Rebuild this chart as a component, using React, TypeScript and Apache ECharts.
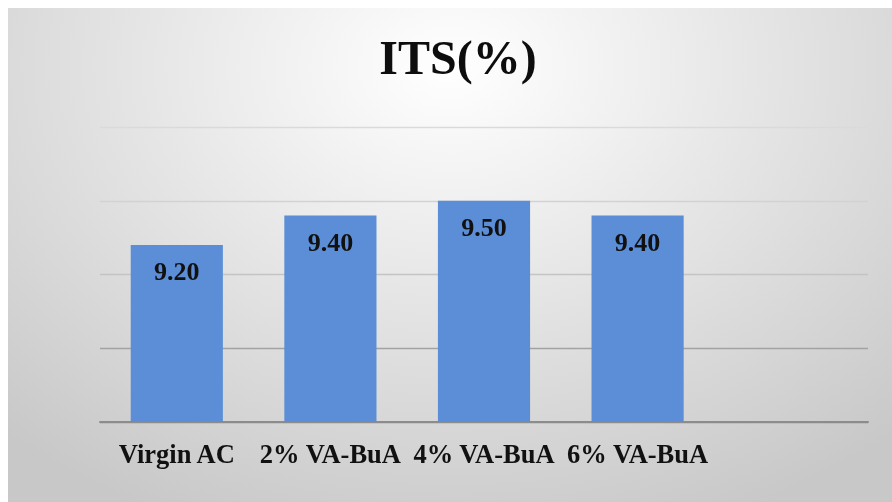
import React, { useEffect, useRef } from "react";
import * as echarts from "echarts";

const titleText = "ITS(%)";
const categories = ["Virgin AC", "2% VA-BuA", "4% VA-BuA", "6% VA-BuA", ""];
const itsValues: (number | null)[] = [9.2, 9.4, 9.5, 9.4, null];
const yMin = 8;
const yMax = 10;
const yInterval = 0.5;

const FONT = '"Liberation Serif", "Times New Roman", serif';

export default function App() {
  const ref = useRef<HTMLDivElement>(null);
  useEffect(() => {
    if (!ref.current) return;
    const chart = echarts.init(ref.current, undefined, { renderer: "svg" });
    chart.setOption({
      animation: false,
      backgroundColor: "transparent",
      title: {
        text: titleText,
        left: 445,
        top: 20,
        textAlign: "center",
        textStyle: { fontFamily: FONT, fontWeight: "bold", fontSize: 48, color: "#0d0d0d" },
      },
      grid: { left: 92, right: 24, top: 119, bottom: 80, containLabel: false },
      xAxis: {
        type: "category",
        data: categories,
        axisTick: { show: false },
        axisLine: { show: true, lineStyle: { color: "#8c8c8c", width: 2 } },
        axisLabel: {
          interval: 0,
          margin: 18,
          fontFamily: FONT,
          fontWeight: "bold",
          fontSize: 26.5,
          color: "#111",
        },
      },
      yAxis: {
        type: "value",
        min: yMin,
        max: yMax,
        interval: yInterval,
        axisLabel: { show: false },
        axisLine: { show: false },
        axisTick: { show: false },
        splitLine: {
          show: true,
          lineStyle: {
            width: 1.4,
            color: ["#8c8c8c", "#a2a2a2", "#c4c4c4", "#d2d2d2", "#dadada"],
          },
        },
      },
      series: [
        {
          type: "bar",
          data: itsValues,
          barCategoryGap: "40%",
          itemStyle: { color: "#5b8ed6" },
          label: {
            show: true,
            position: "insideTop",
            distance: 13.5,
            formatter: (p: any) => Number(p.value).toFixed(2),
            fontFamily: FONT,
            fontWeight: "bold",
            fontSize: 26,
            color: "#111",
          },
        },
      ],
    });
    return () => chart.dispose();
  }, []);
  return (
    <div
      style={{
        position: "fixed",
        left: 8,
        top: 8,
        width: 884,
        height: 494,
        background:
          "radial-gradient(ellipse 75% 100% at 50% 12%, #ffffff 0%, #f3f3f3 22%, #dedede 60%, #c8c8c8 100%)",
      }}
    >
      <div ref={ref} style={{ width: 884, height: 494 }} />
    </div>
  );
}
